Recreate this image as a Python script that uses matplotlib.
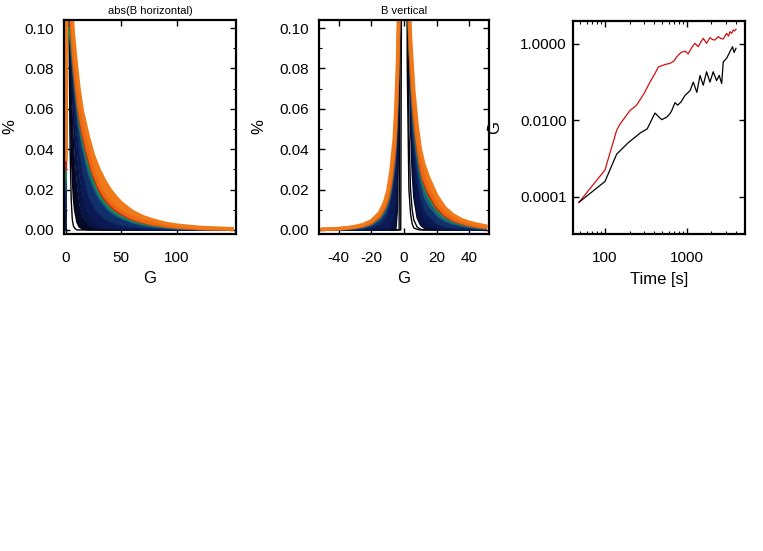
import numpy as np
import matplotlib
matplotlib.use("Agg")
import matplotlib.pyplot as plt
from matplotlib.ticker import MultipleLocator, NullLocator, NullFormatter

plt.rcParams['font.family'] = ['Liberation Sans', 'DejaVu Sans']
plt.rcParams['axes.unicode_minus'] = False

# --- histogram snapshots, abs(B horizontal) ---
g_h = [0, 1, 2, 3, 4, 5, 6, 7, 8, 10, 12, 15, 20, 25, 30, 35, 40, 45, 50, 60, 70, 80, 90, 100, 120, 150]
h_snaps = [
    [0, .45, .25, .10, .04, .015, .005, .002, .001, 0, 0, 0, 0, 0, 0, 0, 0, 0, 0, 0, 0, 0, 0, 0, 0, 0],
    [0, .30, .20, .12, .07, .04, .025, .015, .010, .004, .0015, .0005, 0, 0, 0, 0, 0, 0, 0, 0, 0, 0, 0, 0, 0, 0],
    [0, .20, .16, .12, .09, .07, .055, .042, .033, .020, .012, .006, .002, .0007, .0002, 0, 0, 0, 0, 0, 0, 0, 0, 0, 0, 0],
    [0, .13, .13, .11, .095, .08, .068, .058, .05, .036, .026, .016, .008, .004, .002, .001, .0005, .0002, .0001, 0, 0, 0, 0, 0, 0, 0],
    [0, .10, .115, .11, .10, .088, .078, .068, .06, .047, .037, .027, .016, .0105, .0072, .005, .0035, .0024, .0017, .0008, .0003, .0001, 0, 0, 0, 0],
    [.01, .09, .105, .105, .098, .09, .082, .075, .068, .057, .048, .038, .026, .019, .0145, .011, .0083, .0064, .005, .003, .0018, .001, .0006, .0004, .0001, 0],
    [.02, .09, .10, .10, .096, .09, .084, .078, .072, .061, .052, .042, .030, .022, .016, .0122, .0094, .0074, .006, .0038, .0025, .0016, .0011, .0008, .0004, .0001],
    [.025, .09, .10, .10, .098, .093, .087, .081, .075, .064, .055, .045, .033, .0245, .018, .0138, .0108, .0086, .007, .0046, .0031, .0021, .0015, .001, .0005, .0002],
    [.03, .11, .12, .115, .108, .10, .092, .085, .078, .067, .058, .048, .036, .027, .020, .0155, .0122, .0098, .008, .0053, .0037, .0026, .0018, .0012, .0006, .0003],
    [.035, .12, .13, .12, .113, .104, .096, .088, .081, .070, .061, .051, .039, .029, .022, .017, .0135, .011, .009, .006, .0042, .003, .0021, .0015, .0008, .0004],
    [.035, .13, .14, .13, .122, .113, .105, .097, .091, .080, .070, .059, .047, .037, .030, .0245, .020, .0165, .0135, .0092, .0065, .0047, .0033, .0024, .0013, .0006],
]

# --- histogram snapshots, B vertical ---
g_v = [-50, -45, -40, -35, -30, -25, -20, -15, -12, -10, -8, -6, -5, -4, -3, -2, -1, 0,
       1, 2, 3, 4, 5, 6, 8, 10, 12, 15, 20, 25, 30, 35, 40, 45, 50]
v_snaps = [
    [0] * 15 + [0, .25, .6, .3, .08, .02, .008, .003, .001, .0003] + [0] * 10,
    [0] * 14 + [0, .15, .4, .5, .35, .15, .05, .02, .01, .005, .0015, .0004] + [0] * 9,
    [0] * 12 + [0, .01, .06, .2, .35, .35, .3, .2, .1, .05, .028, .016, .006, .0025, .001, .0003] + [0] * 7,
    [0] * 10 + [.001, .005, .012, .03, .08, .2, .3, .3, .28, .22, .13, .075, .048, .033, .017, .009, .005, .002, .0006, .0002] + [0] * 5,
    [0, 0, 0, 0, .0001, .0003, .0008, .002, .0042, .0068, .012, .022, .032, .05, .095, .18, .28, .3,
     .27, .2, .11, .07, .05, .037, .022, .014, .0095, .006, .0025, .001, .0004, .0002, .0001, 0, 0],
    [0, .0001, .0002, .0003, .0005, .0009, .0018, .004, .007, .0105, .017, .028, .039, .058, .1, .18, .25, .28,
     .24, .17, .1, .072, .056, .044, .03, .021, .015, .011, .006, .0035, .0022, .0014, .0009, .0006, .0004],
    [.0001, .0002, .0003, .0005, .0008, .0013, .0025, .0052, .0086, .0124, .0195, .031, .043, .063, .1, .17, .23, .26,
     .22, .16, .1, .077, .062, .05, .036, .026, .019, .014, .0082, .005, .0033, .0022, .0015, .001, .0007],
    [.0002, .0003, .0004, .0007, .0011, .0017, .003, .006, .0097, .0138, .0215, .034, .046, .067, .1, .16, .22, .25,
     .21, .16, .1, .08, .066, .054, .039, .029, .022, .016, .0095, .006, .004, .0028, .0019, .0013, .0009],
    [.0002, .0003, .0005, .0008, .0012, .0019, .0033, .0066, .0105, .0148, .023, .036, .049, .07, .105, .16, .22, .25,
     .21, .16, .105, .084, .069, .057, .042, .031, .024, .018, .011, .007, .0047, .0033, .0023, .0016, .0011],
    [.0003, .0004, .0006, .0009, .0014, .0022, .0037, .0072, .0115, .016, .025, .039, .052, .074, .11, .165, .22, .25,
     .21, .16, .11, .088, .073, .061, .045, .034, .026, .020, .0125, .008, .0054, .0038, .0027, .0019, .0013],
    [.0004, .0005, .0007, .0011, .0017, .0027, .0045, .0085, .0135, .019, .029, .045, .06, .083, .12, .17, .22, .25,
     .21, .165, .115, .095, .082, .069, .052, .04, .033, .026, .017, .011, .0075, .0052, .0038, .0028, .002],
]

snap_colors = ['#000000', '#02030f', '#040a28', '#081445', '#0b1a55', '#10306a',
               '#1a6080', '#12904c', '#d42412', '#ec6812', '#f07a1a']
snap_lw = [1, 1, 1, 1, 1.2, 1.4, 1.6, 1.8, 2, 2.5, 2.5]

# --- time series (right panel) ---
red_t = [48, 100, 139, 153, 202, 244, 300, 355, 410, 450, 543, 625, 700, 754, 850, 954, 1042, 1150,
         1263, 1385, 1480, 1594, 1752, 1926, 2080, 2220, 2437, 2600, 2798, 3080, 3250, 3380, 3550,
         3720, 3850, 4010]
red_v = [7.1e-5, 5e-4, 5.5e-3, 8e-3, 0.018, 0.025, 0.05, 0.1, 0.17, 0.25, 0.29, 0.31, 0.36, 0.46,
         0.6, 0.65, 0.55, 0.8, 1.04, 0.85, 1.1, 1.41, 1.04, 1.47, 1.3, 1.27, 1.56, 1.4, 1.35, 1.9,
         1.6, 2.1, 1.9, 2.33, 2.2, 2.43]
black_t = [48, 100, 139, 193, 268, 329, 409, 494, 567, 625, 656, 718, 776, 850, 954, 1100, 1205,
           1330, 1455, 1594, 1752, 1926, 2110, 2320, 2500, 2680, 2800, 3080, 3380, 3640, 3800, 4010]
black_v = [7.1e-5, 2.5e-4, 1.3e-3, 2.6e-3, 4.6e-3, 6e-3, 0.0155, 0.0104, 0.012, 0.015, 0.018,
           0.029, 0.025, 0.03, 0.045, 0.06, 0.1, 0.054, 0.15, 0.083, 0.187, 0.1, 0.187, 0.11, 0.15,
           0.092, 0.34, 0.42, 0.63, 0.85, 0.6, 0.77]


def style_axes(ax):
    for sp in ax.spines.values():
        sp.set_linewidth(1.6)
        sp.set_zorder(5)
    ax.tick_params(which='both', direction='in', top=True, right=True, labelsize=11)
    ax.tick_params(which='major', length=4, width=1)
    ax.tick_params(which='minor', length=2, width=0.8)


def draw_snaps(ax, g, snaps, first_fill=3):
    # dense family of curves: fill the gap between consecutive snapshots
    for k, (vals, c, lw) in enumerate(zip(snaps, snap_colors, snap_lw)):
        if k >= first_fill:
            ax.fill_between(g, snaps[k - 1], vals, color=c, lw=0)
        ax.plot(g, vals, color=c, lw=lw, solid_joinstyle='round')


W, H = 763, 551
fig = plt.figure(figsize=(W / 100, H / 100), dpi=100)

# left panel
ax1 = fig.add_axes([64 / W, 1 - 234 / H, 172 / W, 214 / H])
draw_snaps(ax1, g_h, h_snaps, first_fill=2)
ax1.set_xlim(-1.5, 153.5)
ax1.set_ylim(-0.002, 0.104)
ax1.set_xticks([0, 50, 100])
ax1.set_yticks([0, 0.02, 0.04, 0.06, 0.08, 0.10])
ax1.set_yticklabels(['0.00', '0.02', '0.04', '0.06', '0.08', '0.10'])
ax1.yaxis.set_minor_locator(MultipleLocator(0.01))
style_axes(ax1)
ax1.tick_params(axis='y', pad=7)
ax1.tick_params(axis='x', pad=12)
ax1.set_title('abs(B horizontal)', fontsize=8, pad=4)
ax1.set_ylabel('%', fontsize=12)
ax1.yaxis.set_label_coords(-0.27, 0.5)
ax1.set_xlabel('G', fontsize=12)
ax1.xaxis.set_label_coords(0.5, -0.175)

# middle panel
ax2 = fig.add_axes([319 / W, 1 - 234 / H, 170 / W, 214 / H])
draw_snaps(ax2, g_v, v_snaps)
ax2.set_xlim(-52, 52)
ax2.set_ylim(-0.002, 0.104)
ax2.set_xticks([-40, -20, 0, 20, 40])
ax2.set_yticks([0, 0.02, 0.04, 0.06, 0.08, 0.10])
ax2.set_yticklabels(['0.00', '0.02', '0.04', '0.06', '0.08', '0.10'])
ax2.yaxis.set_minor_locator(MultipleLocator(0.01))
style_axes(ax2)
ax2.tick_params(axis='y', pad=7)
ax2.tick_params(axis='x', pad=12)
ax2.set_title('B vertical', fontsize=8, pad=4)
ax2.set_ylabel('%', fontsize=12)
ax2.yaxis.set_label_coords(-0.31, 0.5)
ax2.set_xlabel('G', fontsize=12)
ax2.xaxis.set_label_coords(0.5, -0.175)

# right panel
ax3 = fig.add_axes([573 / W, 1 - 234 / H, 172 / W, 213 / H])
ax3.plot(red_t, red_v, color='#d01010', lw=0.9)
ax3.plot(black_t, black_v, color='black', lw=0.9)
ax3.set_xscale('log')
ax3.set_yscale('log')
ax3.set_xlim(40.6, 5170)
ax3.set_ylim(1.05e-5, 4.0)
ax3.set_xticks([100, 1000])
ax3.set_xticklabels(['100', '1000'])
ax3.set_yticks([1e-4, 1e-2, 1])
ax3.set_yticklabels(['0.0001', '0.0100', '1.0000'])
ax3.yaxis.set_minor_locator(NullLocator())
ax3.xaxis.set_minor_formatter(NullFormatter())
style_axes(ax3)
ax3.tick_params(axis='y', pad=4.5)
ax3.tick_params(axis='x', pad=12)
ax3.set_ylabel('G', fontsize=12)
ax3.yaxis.set_label_coords(-0.41, 0.5)
ax3.set_xlabel('Time [s]', fontsize=12)
ax3.xaxis.set_label_coords(0.5, -0.18)

fig.savefig('out.png', dpi=100)
